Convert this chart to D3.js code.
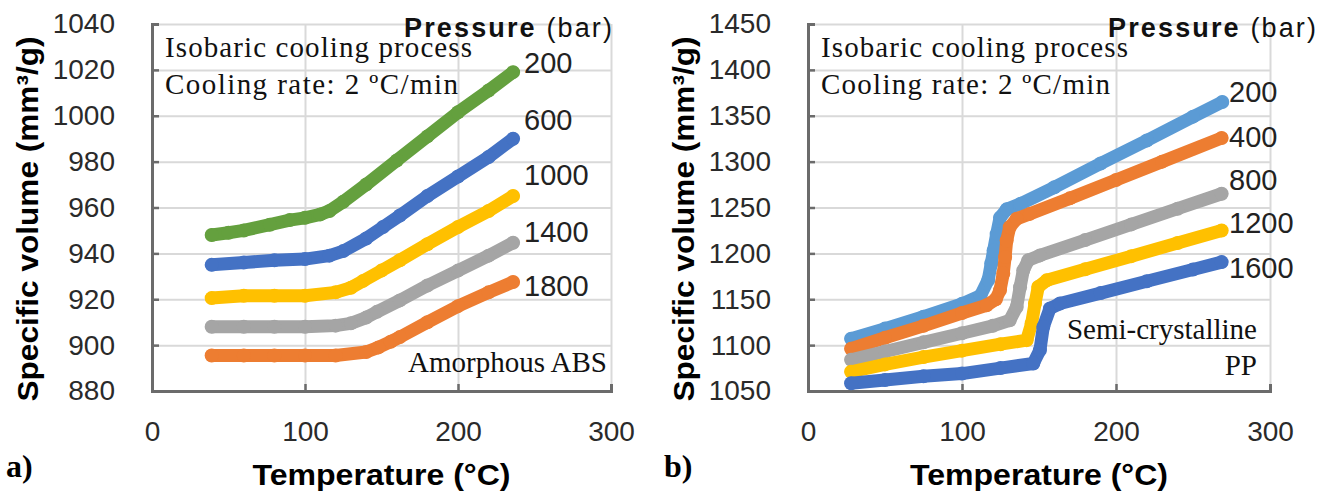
<!DOCTYPE html>
<html>
<head>
<meta charset="utf-8">
<script src="https://cdn.jsdelivr.net/npm/d3@7"></script>
<style>
  body { margin: 0; background: #fff; }
</style>
</head>
<body>
<div class="canva"></div>
<script>
// ---- data ----
const tempTicks = [0, 100, 200, 300];
const absTicks = [880, 900, 920, 940, 960, 980, 1000, 1020, 1040];
const ppTicks = [1050, 1100, 1150, 1200, 1250, 1300, 1350, 1400, 1450];

const absPressures = ["200", "600", "1000", "1400", "1800"];
const ppPressures = ["200", "400", "800", "1200", "1600"];

// a) amorphous ABS, [temperature, specific volume]
const abs200 = [[39,948],[50,949],[60,950],[77,952.5],[90,954.5],[100,955.5],[110,957],[116,958.5],[125,962.5],[140,970],[160,980.5],[180,991],[200,1001.5],[220,1011],[236,1019]];
const abs600 = [[39,935],[60,936],[80,937],[100,937.5],[116,939],[125,941],[140,946.5],[151,951.5],[162,956.5],[180,965],[200,973.5],[220,982],[236,990]];
const abs1000 = [[39,920.5],[60,921.5],[80,921.5],[100,921.5],[120,923],[130,925],[138,928],[150,932.5],[162,937],[180,944],[200,951.5],[220,958.5],[236,965]];
const abs1400 = [[39,908],[60,908],[80,908],[100,908],[120,908.5],[130,909.5],[140,912],[147,914.5],[162,919.5],[180,926],[200,932.5],[220,939],[236,944.6]];
const abs1800 = [[39,895.5],[60,895.5],[80,895.5],[100,895.5],[120,895.5],[140,897],[148,899],[156,901.5],[162,903.5],[180,910],[200,917],[220,923],[236,927.5]];

// b) semi-crystalline PP
const pp200 = [[28,1107],[50,1118],[75,1131],[100,1145],[112,1154],[117,1171],[119,1189],[120.5,1203],[122.5,1221],[124.7,1239],[129,1248],[138,1254],[160,1272],[190,1298],[220,1323],[250,1349],[269,1365]];
const pp400 = [[28,1096],[50,1108],[75,1121],[100,1135],[116,1143.5],[122,1150],[124.7,1160],[126.8,1178],[128,1196],[129,1214],[131,1228.6],[135.5,1237.7],[144,1243],[170,1260],[200,1280],[230,1300],[268.6,1325.7]];
const pp800 = [[28,1084],[50,1093],[75,1103],[100,1113],[120,1121],[131,1127],[135.5,1141.6],[137.7,1163],[139.8,1181.5],[143,1192.4],[150.6,1197.8],[180,1214.5],[210,1231.6],[240,1248.7],[268.6,1265]];
const pp1200 = [[28,1071],[50,1079],[75,1087],[100,1094],[125,1101],[142,1105.4],[145.2,1123.6],[147.4,1145.3],[149.5,1163.4],[155,1170.6],[180,1182.6],[210,1197],[240,1211.3],[268.6,1225]];
const pp1600 = [[28,1058.4],[50,1062],[75,1066],[100,1069],[125,1075],[146.3,1080],[150.6,1094.6],[152.8,1119.9],[157.1,1139.9],[163.6,1145.3],[190,1156.7],[220,1169.6],[250,1182.5],[268.6,1190.5]];

// ---- styles / layout ----
const absColors = ["#64a03e", "#4472c4", "#ffc000", "#a5a5a5", "#ed7d31"];
const ppColors = ["#5b9bd5", "#ed7d31", "#a5a5a5", "#ffc000", "#4472c4"];

const svg = d3.select(".canva").append("svg")
    .attr("width", 1334)
    .attr("height", 497);

const sans = "'Liberation Sans', Arial, sans-serif";
const serif = "'Liberation Serif', 'Times New Roman', serif";

function drawPanel(p) {
    const x = d3.scaleLinear().domain([0, 300]).range([p.left, p.right]);
    const y = d3.scaleLinear().domain(p.yDomain).range([p.bottom, p.top]);
    const g = svg.append("g");

    // gridlines
    g.append("g")
        .attr("transform", `translate(${p.left},0)`)
        .call(d3.axisLeft(y).tickValues(p.yTicks).tickSize(-(p.right - p.left)).tickFormat(""))
        .call(s => s.select(".domain").remove())
        .call(s => s.selectAll("line").attr("stroke", "#d9d9d9").attr("stroke-width", 2));
    g.append("g")
        .attr("transform", `translate(0,${p.bottom})`)
        .call(d3.axisBottom(x).tickValues(tempTicks.slice(1)).tickSize(-(p.bottom - p.top)).tickFormat(""))
        .call(s => s.select(".domain").remove())
        .call(s => s.selectAll("line").attr("stroke", "#d9d9d9").attr("stroke-width", 2));

    // axes
    const yAxis = g.append("g")
        .attr("transform", `translate(${p.left},0)`)
        .call(d3.axisLeft(y).tickValues(p.yTicks).tickSize(-7).tickPadding(37).tickFormat(d3.format("d")));
    const xAxis = g.append("g")
        .attr("transform", `translate(0,${p.bottom})`)
        .call(d3.axisBottom(x).tickValues(tempTicks).tickSize(-7).tickPadding(30).tickFormat(d3.format("d")));
    [yAxis, xAxis].forEach(a => {
        a.select(".domain").attr("stroke", "#6b6b6b").attr("stroke-width", 3);
        a.selectAll(".tick line").attr("stroke", "#6b6b6b").attr("stroke-width", 2.5);
        a.selectAll(".tick text")
            .attr("font-family", sans).attr("font-size", 28).attr("fill", "#2a2a2a");
    });

    // series
    const line = d3.line().x(d => x(d[0])).y(d => y(d[1]));
    p.series.forEach((s, i) => {
        g.append("path")
            .datum(s)
            .attr("d", line)
            .attr("fill", "none")
            .attr("stroke", p.colors[i])
            .attr("stroke-width", 13)
            .attr("stroke-linecap", "round")
            .attr("stroke-linejoin", "round");
        g.selectAll(null)
            .data(s)
            .join("circle")
            .attr("cx", d => x(d[0]))
            .attr("cy", d => y(d[1]))
            .attr("r", 7)
            .attr("fill", p.colors[i]);
    });

    // pressure labels
    p.names.forEach((n, i) => {
        g.append("text")
            .attr("x", p.labelX)
            .attr("y", p.labelY[i] + 11)
            .attr("font-family", sans).attr("font-size", 29).attr("fill", "#222")
            .text(n);
    });

    // annotations
    g.append("text").attr("x", p.left + 13).attr("y", 57)
        .attr("font-family", serif).attr("font-size", 29).attr("fill", "#111")
        .attr("textLength", 307).attr("lengthAdjust", "spacing")
        .text("Isobaric cooling process");
    g.append("text").attr("x", p.left + 13).attr("y", 94)
        .attr("font-family", serif).attr("font-size", 29).attr("fill", "#111")
        .attr("textLength", p.rateLen).attr("lengthAdjust", "spacing")
        .text("Cooling rate: 2 \u00baC/min");

    const pr = g.append("text").attr("x", p.pressX).attr("y", 37)
        .attr("font-family", sans).attr("font-size", 27).attr("fill", "#111")
        .attr("textLength", 208).attr("lengthAdjust", "spacing");
    pr.append("tspan").attr("font-weight", "bold").text("Pressure");
    pr.append("tspan").text(" (bar)");

    p.material.forEach((t, i) => {
        g.append("text").attr("x", p.matX).attr("y", p.matY[i])
            .attr("text-anchor", "end")
            .attr("font-family", serif).attr("font-size", 29).attr("fill", "#111")
            .text(t);
    });

    // axis titles
    g.append("text")
        .attr("x", (p.left + p.right) / 2).attr("y", 485)
        .attr("text-anchor", "middle")
        .attr("font-family", sans).attr("font-weight", "bold").attr("font-size", 29)
        .attr("textLength", 258).attr("lengthAdjust", "spacingAndGlyphs")
        .text("Temperature (\u00b0C)");
    g.append("text")
        .attr("transform", `translate(${p.yTitleX},219) rotate(-90)`)
        .attr("text-anchor", "middle")
        .attr("font-family", sans).attr("font-weight", "bold").attr("font-size", 29)
        .attr("textLength", 365).attr("lengthAdjust", "spacingAndGlyphs")
        .text("Specific volume (mm\u00b3/g)");

    g.append("text")
        .attr("x", p.tagX).attr("y", 477)
        .attr("font-family", serif).attr("font-weight", "bold").attr("font-size", 32)
        .text(p.tag);
}

drawPanel({
    left: 152, right: 611, top: 24, bottom: 391,
    yDomain: [880, 1040], yTicks: absTicks,
    series: [abs200, abs600, abs1000, abs1400, abs1800],
    colors: absColors, names: absPressures,
    labelX: 524, labelY: [62, 119, 174, 231, 285],
    rateLen: 293, pressX: 404,
    material: ["Amorphous ABS"], matX: 607, matY: [372],
    yTitleX: 38, tagX: 6, tag: "a)"
});

drawPanel({
    left: 808, right: 1270, top: 24, bottom: 391,
    yDomain: [1050, 1450], yTicks: ppTicks,
    series: [pp200, pp400, pp800, pp1200, pp1600],
    colors: ppColors, names: ppPressures,
    labelX: 1229, labelY: [91, 136, 179, 222, 267],
    rateLen: 289, pressX: 1108,
    material: ["Semi-crystalline", "PP"], matX: 1257, matY: [339, 375],
    yTitleX: 694, tagX: 664, tag: "b)"
});
</script>
</body>
</html>
